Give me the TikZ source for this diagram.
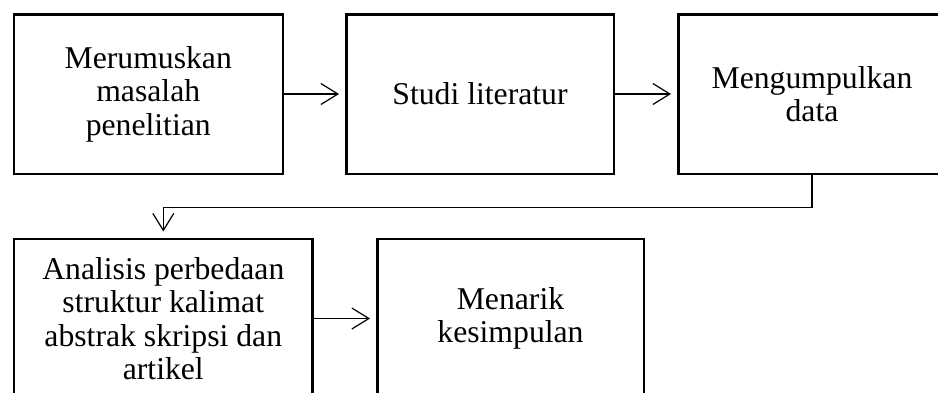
\documentclass[tikz,border=0pt]{standalone}
\usepackage{fontspec}
\setmainfont{Liberation Serif}
\usetikzlibrary{arrows.meta}
\begin{document}
\begin{tikzpicture}[x=1pt,y=-1pt,
  procbox/.style={draw=black, line width=2.5pt, inner sep=0pt, align=center,
    minimum height=159.5pt, font=\fontsize{31.7pt}{33.5pt}\selectfont},
  arr/.style={line width=1.2pt, -{Straight Barb[length=17pt,width=21pt,line width=1.2pt]}, shorten >=6pt}]
\useasboundingbox (0,0) rectangle (938,392);
\clip (0,0) rectangle (938,392);
\fill[white] (0,0) rectangle (938,392);
\node[procbox, minimum width=269pt] (b1) at (148.25,94) {Merumuskan\\masalah\\penelitian};
\node[procbox, minimum width=267.5pt] (b2) at (480,94) {Studi literatur};
\node[procbox, minimum width=267.5pt] (b3) at (812,94) {Mengumpulkan\\data};
\node[procbox, minimum width=298.5pt] (b4) at (163.3,318.5) {Analisis perbedaan\\struktur kalimat\\abstrak skripsi dan\\artikel};
\node[procbox, minimum width=266.5pt] (b5) at (510.5,318.5) {Menarik\\kesimpulan};
\coordinate (c1) at (812,207.7);
\draw[arr] (b1.east) -- (b2.west);
\draw[arr] (b2.east) -- (b3.west);
\draw[arr] (b3.south) -- (c1) -| (b4.north);
\draw[arr] (b4.east) -- (b5.west);
\end{tikzpicture}
\end{document}
